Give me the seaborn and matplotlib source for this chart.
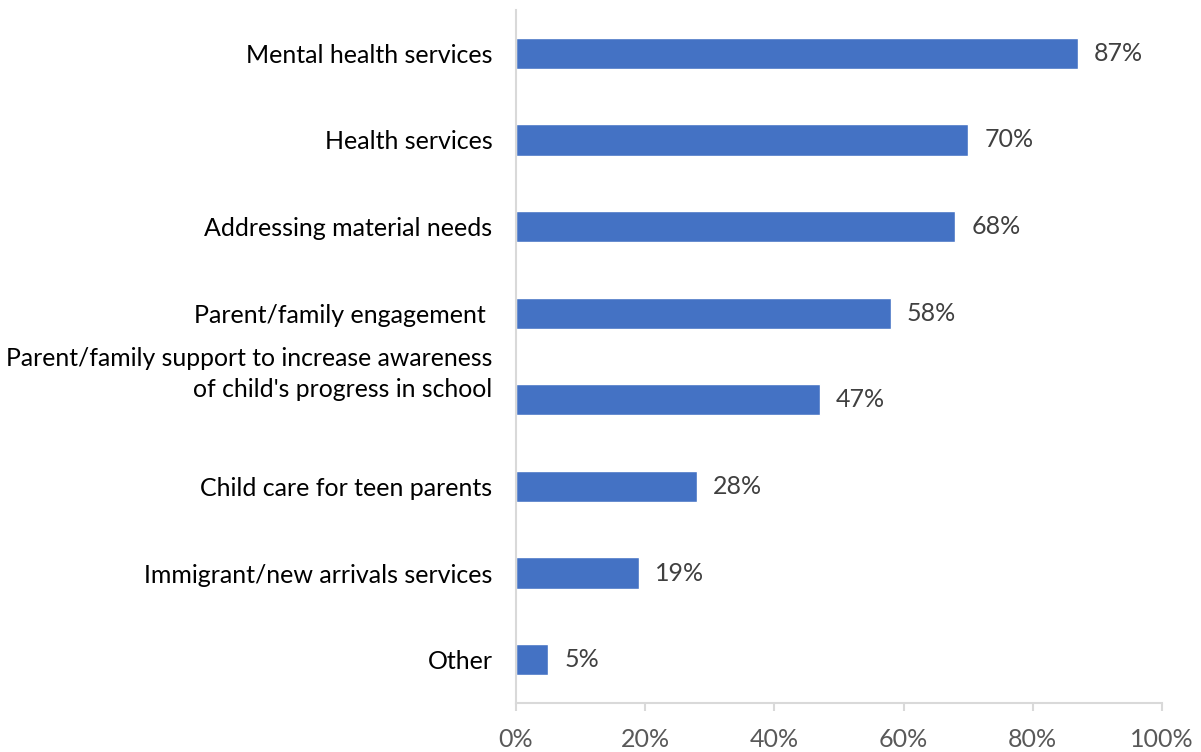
import matplotlib
matplotlib.use("Agg")
import matplotlib.pyplot as plt
import seaborn as sns
import pandas as pd
from matplotlib.ticker import PercentFormatter

categories = [
    "Mental health services",
    "Health services",
    "Addressing material needs",
    "Parent/family engagement ",
    "Parent/family support to increase awareness\nof child's progress in school",
    "Child care for teen parents",
    "Immigrant/new arrivals services",
    "Other",
]
values = [87, 70, 68, 58, 47, 28, 19, 5]
xticks = [0, 20, 40, 60, 80, 100]

sns.set_theme(style="white")
plt.rcParams['font.family'] = ['Lato', 'DejaVu Sans']

df = pd.DataFrame({"cat": categories, "val": values})

fig = plt.figure(figsize=(12.01, 7.52), dpi=100)
ax = fig.add_axes([516/1201, 1-703/752, (1162-516)/1201, (703-10)/752])
sns.barplot(data=df, x="val", y="cat", orient="h", color="#4472C4",
            saturation=1, width=0.36, ax=ax)

ax.set_xlim(0, 100)
ax.set_ylim(7.5, -0.5)
ax.set_xticks(xticks)
ax.xaxis.set_major_formatter(PercentFormatter(decimals=0))
ax.set_xlabel("")
ax.set_ylabel("")

for s in ["top", "right"]:
    ax.spines[s].set_visible(False)
for s in ["left", "bottom"]:
    ax.spines[s].set_color("#D9D9D9")
    ax.spines[s].set_linewidth(1.5)

ax.tick_params(axis="x", direction="out", length=6, width=1.5, color="#D9D9D9",
               labelsize=18, labelcolor="#595959", pad=12, bottom=True)
ax.tick_params(axis="y", length=0, labelsize=18, labelcolor="#000000", pad=17)

# multi-line labels are drawn separately, raised above the bar centre as in the original
ylabels = []
for i, c in enumerate(categories):
    if "\n" in c:
        ylabels.append("")
        ax.annotate(c, xy=(0, i), xycoords=("axes fraction", "data"),
                    xytext=(-17, 18.5), textcoords="offset points",
                    ha="right", va="center", multialignment="right",
                    fontsize=17.8, color="#000000", linespacing=1.42,
                    annotation_clip=False)
    else:
        ylabels.append(c)
ax.set_yticks(range(len(categories)))
ax.set_yticklabels(ylabels)
for lab in ax.get_yticklabels():
    lab.set_horizontalalignment("right")

for i, v in enumerate(values):
    ax.text(v + 2.5, i, f"{v}%", va="center", ha="left", fontsize=18, color="#404040")

fig.savefig("out.png", dpi=100)
